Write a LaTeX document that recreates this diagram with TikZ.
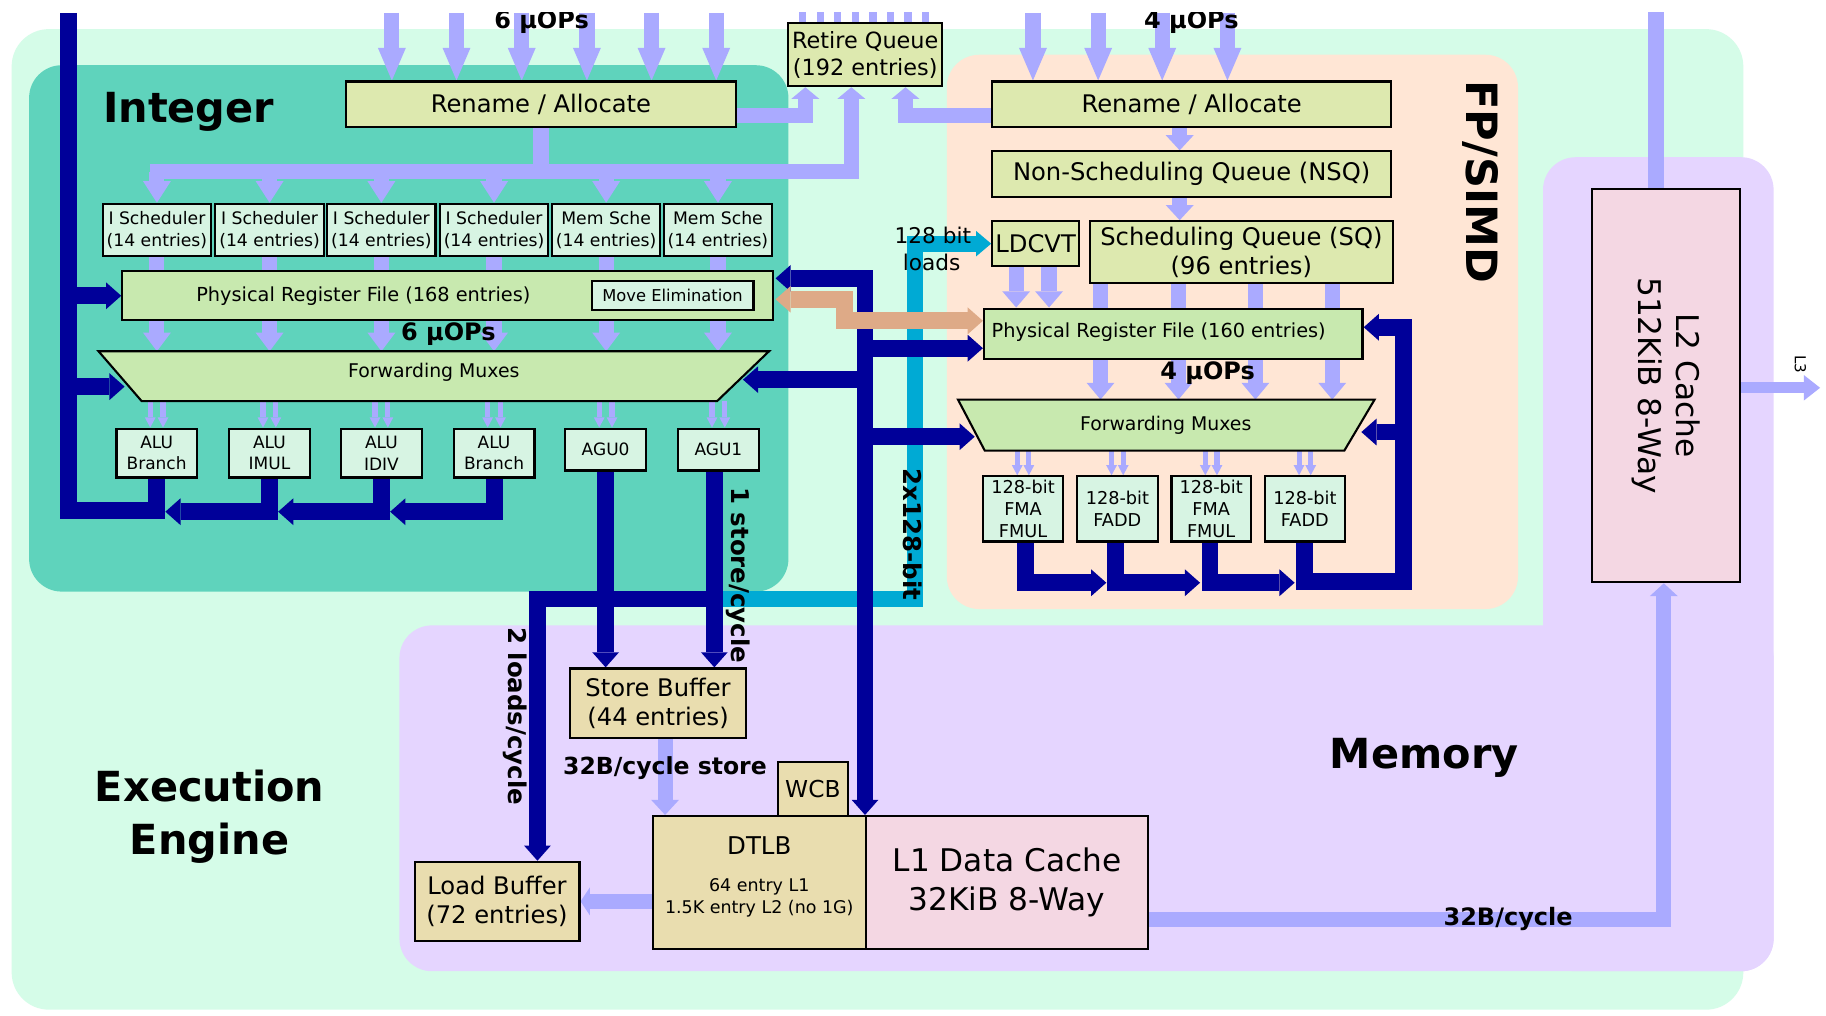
\documentclass[tikz,border=0pt]{standalone}
\usepackage{fontspec}
\setmainfont{DejaVu Sans}
\usetikzlibrary{arrows.meta,calc}
\pgfdeclarelayer{bg}
\pgfdeclarelayer{arr}
\pgfsetlayers{bg,arr,main}
\definecolor{eebg}{RGB}{213,252,232}
\definecolor{intbg}{RGB}{95,211,188}
\definecolor{fpbg}{RGB}{255,230,213}
\definecolor{membg}{RGB}{229,213,255}
\definecolor{ygreen}{RGB}{221,233,175}
\definecolor{lgreen}{RGB}{200,233,175}
\definecolor{cmint}{RGB}{215,244,227}
\definecolor{ckhaki}{RGB}{233,221,175}
\definecolor{cpink}{RGB}{244,215,227}
\definecolor{lpur}{RGB}{170,170,255}
\definecolor{dblue}{RGB}{0,0,153}
\definecolor{ccyan}{RGB}{0,170,212}
\definecolor{ctan}{RGB}{222,170,135}
\tikzset{
  lpbar/.style={draw=lpur,line width=6.5pt},
  lpa/.style={lpbar,-{Triangle[width=12pt,length=#1,line width=0pt]}},
  lpa/.default=8pt,
  thina/.style={draw=lpur,line width=2.2pt,-{Triangle[width=4.6pt,length=4.3pt,line width=0pt]}},
  dbar/.style={draw=dblue,line width=7.25pt,line join=miter},
  dba/.style={dbar,-{Triangle[width=11.5pt,length=6.5pt,line width=0pt]}},
  dbb/.style={dbar,{Triangle[width=11.5pt,length=6.5pt,line width=0pt]}-{Triangle[width=11.5pt,length=6.5pt,line width=0pt]}},
  tana/.style={draw=ctan,line width=7.25pt,line join=miter,{Triangle[width=11.5pt,length=6.5pt,line width=0pt]}-{Triangle[width=11.5pt,length=6.5pt,line width=0pt]}},
  cya/.style={draw=ccyan,line width=7pt,line join=miter,-{Triangle[width=11pt,length=6.5pt,line width=0pt]}},
  bx/.style={draw=black,line width=0.9pt,inner sep=0pt,align=center},
  area/.style={inner sep=0pt},
  bigtxt/.style={font=\fontsize{10.4}{12.4}\selectfont},
  rqtxt/.style={font=\fontsize{9.6}{11.7}\selectfont},
  smtxt/.style={font=\fontsize{7.4}{9.2}\selectfont},
  untxt/.style={font=\fontsize{7.3}{9.3}\selectfont},
  futxt/.style={font=\fontsize{7.6}{9.4}\selectfont},
  muxtxt/.style={font=\fontsize{8.1}{10}\selectfont},
  prftxt/.style={font=\fontsize{8.3}{10}\selectfont},
  cachetxt/.style={font=\fontsize{13.4}{16.5}\selectfont},
  sect/.style={font=\fontsize{17.8}{21}\selectfont\bfseries},
  lbl/.style={font=\fontsize{10.5}{12.6}\selectfont\bfseries},
  lblc/.style={font=\fontsize{10.3}{12.4}\selectfont\bfseries}
}
% box node from its two corners: name, x1, y1, x2, y2, options, text
\newcommand\bxn[7]{\node[#6,minimum width={((#4)-(#2))*0.5pt},minimum height={((#5)-(#3))*0.5pt}] (#1) at ({((#2)+(#4))/2},{((#3)+(#5))/2}) {#7};}
\begin{document}
\begin{tikzpicture}[x=0.5pt,y=-0.5pt]
\useasboundingbox (0,0) rectangle (1568,872);
\begin{pgfonlayer}{bg}
\fill[white] (0,0) rectangle (1568,872);
\fill[eebg,rounded corners=16pt] (10,25) rectangle (1497,867);
\fill[intbg,rounded corners=14pt] (25,56) rectangle (677,508);
\fill[fpbg,rounded corners=14pt] (813,47) rectangle (1303.5,523);
\fill[membg,rounded corners=14pt] (343,537) rectangle (1523,834);
\fill[membg,rounded corners=14pt] (1325,135) rectangle (1523,834);
\end{pgfonlayer}

% ---------- Integer nodes
\bxn{irename}{297}{70}{632}{109}{bx,fill=ygreen,bigtxt}{Rename / Allocate}
\bxn{retire}{677}{20}{809}{74}{bx,fill=ygreen,rqtxt}{Retire Queue\\(192 entries)}
\bxn{is1}{88.5}{175}{181}{220}{bx,fill=cmint,smtxt}{I Scheduler\\(14 entries)}
\bxn{is2}{185}{175}{278}{220}{bx,fill=cmint,smtxt}{I Scheduler\\(14 entries)}
\bxn{is3}{281}{175}{374}{220}{bx,fill=cmint,smtxt}{I Scheduler\\(14 entries)}
\bxn{is4}{378}{175}{470.5}{220}{bx,fill=cmint,smtxt}{I Scheduler\\(14 entries)}
\bxn{is5}{474}{175}{567}{220}{bx,fill=cmint,smtxt}{Mem Sche\\(14 entries)}
\bxn{is6}{570}{175}{663}{220}{bx,fill=cmint,smtxt}{Mem Sche\\(14 entries)}
\bxn{iprf}{105}{233}{664}{275}{bx,fill=lgreen}{}
\node[prftxt,anchor=base] (iprft) at (312,259) {Physical Register File (168 entries)};
\bxn{movel}{508}{241}{647}{266}{bx,fill=cmint,font=\fontsize{7}{8.4}\selectfont}{Move Elimination}
\bxn{imux}{85}{302}{660}{344}{area}{}
\draw[line width=0.9pt,fill=lgreen] (imux.north west) -- (imux.north east) -- ($(imux.south east)+(-44.6,0)$) -- ($(imux.south west)+(37,0)$) -- cycle;
\node[muxtxt,anchor=base] (imuxt) at (372.5,324.3) {Forwarding Muxes};
\bxn{u1}{100}{368}{169}{410}{bx,fill=cmint,untxt}{ALU\\Branch}
\bxn{u2}{196.7}{368}{266}{410}{bx,fill=cmint,untxt}{ALU\\IMUL}
\bxn{u3}{292.7}{368}{362.4}{410}{bx,fill=cmint,untxt}{ALU\\IDIV}
\bxn{u4}{389.5}{368}{459}{410}{bx,fill=cmint,untxt}{ALU\\Branch}
\bxn{u5}{485.5}{368}{554.6}{404}{bx,fill=cmint,untxt}{AGU0}
\bxn{u6}{582.3}{368}{651.5}{404}{bx,fill=cmint,untxt}{AGU1}

% ---------- FP nodes
\bxn{fprename}{852}{70}{1194.6}{109}{bx,fill=ygreen,bigtxt}{Rename / Allocate}
\bxn{nsq}{852}{130}{1194.6}{169}{bx,fill=ygreen,bigtxt}{Non-Scheduling Queue (NSQ)}
\bxn{ldcvt}{852}{190}{926.6}{228.5}{bx,fill=ygreen,bigtxt}{LDCVT}
\bxn{sq}{936}{190}{1196}{242.8}{bx,fill=ygreen,bigtxt}{Scheduling Queue (SQ)\\(96 entries)}
\bxn{fprf}{845}{265}{1170}{308}{bx,fill=lgreen}{}
\node[prftxt,anchor=base] (fprft) at (995,290) {Physical Register File (160 entries)};
\bxn{fmux}{823}{343.5}{1180}{386.5}{area}{}
\draw[line width=0.9pt,fill=lgreen] (fmux.north west) -- (fmux.north east) -- ($(fmux.south east)+(-26,0)$) -- ($(fmux.south west)+(23,0)$) -- cycle;
\node[muxtxt,anchor=base] (fmuxt) at (1001,369.3) {Forwarding Muxes};
\bxn{f1}{844}{409}{913}{465}{bx,fill=cmint,futxt}{128-bit\\FMA\\FMUL}
\bxn{f2}{925}{409}{994}{465}{bx,fill=cmint,futxt}{128-bit\\FADD}
\bxn{f3}{1006}{409}{1074}{465}{bx,fill=cmint,futxt}{128-bit\\FMA\\FMUL}
\bxn{f4}{1086}{409}{1155}{465}{bx,fill=cmint,futxt}{128-bit\\FADD}

% ---------- Memory nodes
\bxn{sb}{489.5}{574}{640.7}{634}{bx,fill=ckhaki,bigtxt}{Store Buffer\\(44 entries)}
\bxn{wcb}{668}{654.5}{728}{700.7}{bx,fill=ckhaki,font=\fontsize{10}{12}\selectfont}{WCB}
\bxn{dtlb}{561}{700.7}{743.7}{815}{bx,fill=ckhaki}{}
\node[font=\fontsize{10.5}{12}\selectfont,anchor=base] (dtlbt) at (652,734) {DTLB};
\node[font=\fontsize{7.5}{9}\selectfont,anchor=base] (dtlb1) at (652,765.7) {64 entry L1};
\node[font=\fontsize{7.5}{9}\selectfont,anchor=base] (dtlb2) at (652,784) {1.5K entry L2 (no 1G)};
\bxn{l1}{743.7}{700.7}{985.8}{815}{bx,fill=cpink,cachetxt}{L1 Data Cache\\32KiB 8-Way}
\bxn{lb}{356}{740}{497.6}{808}{bx,fill=ckhaki,bigtxt}{Load Buffer\\(72 entries)}
\bxn{l2}{1367}{162}{1494}{500}{bx,fill=cpink}{}
\node[cachetxt,rotate=-90,align=center] (l2t) at (l2.center) {L2 Cache\\512KiB 8-Way};

% ---------- connectors
\begin{pgfonlayer}{arr}
\coordinate (a1) at ($(u6.south)+(-3.5,0)$);
\coordinate (busj) at ($(a1)+(0,109.5)$);
\draw[cya] (busj) -- ++(172.5,0) |- (ldcvt.west);
\coordinate (ltrunk) at (59,11);
\draw[dbar] (ltrunk) -- (59,438.5) -| (u1.south);
\draw[dba] (iprf.west -| ltrunk) -- (iprf.west);
\coordinate (imuxL) at (107,332);
\draw[dba] (imuxL -| ltrunk) -- (imuxL);
\draw[dba] (u2.south) |- ($(u1.south)+(7.5,28.5)$);
\draw[dba] (u3.south) |- ($(u2.south)+(7.5,28.5)$);
\draw[dba] (u4.south) |- ($(u3.south)+(7.5,28.5)$);
\draw[dba] (u5.south) -- (u5.south |- sb.north);
\draw[dba] (a1) -- (a1 |- sb.north);
\coordinate (lbin) at ($(lb.north)+(34.7,0)$);
\draw[dba] (busj) -| (lbin);
\coordinate (iprfR) at (666,239);
\draw[dbb] (iprfR) -| (l1.north west);
\coordinate (fprfL) at (844,299);
\draw[dba] (fprfL -| l1.north west) -- (fprfL);
\coordinate (imuxR) at (638,326);
\draw[dba] (imuxR -| l1.north west) -- (imuxR);
\coordinate (fmuxL) at (837,375);
\draw[dba] (fmuxL -| l1.north west) -- (fmuxL);
\draw[dba] ($(f1.south)+(2,0)$) |- ($(f2.south)+(-9.5,34.5)$);
\draw[dba] ($(f2.south)+(-1.5,0)$) |- ($(f3.south)+(-9.5,34.5)$);
\draw[dba] ($(f3.south)+(-1,0)$) |- ($(f4.south)+(-8.8,34.5)$);
\coordinate (fprfR) at (1171,281);
\coordinate (fmuxR) at (1169,371);
\draw[dba] (f4.south) |- ($(fprfR)+(34,218.5)$) -- ($(fprfR)+(34,0)$) -- (fprfR);
\draw[dba] ($(fprfR)+(34,90)$) -- (fmuxR);
\coordinate (tanL) at (666,257);
\coordinate (tanR) at (844,275.5);
\draw[tana] (tanL) -- ++(59.5,0) |- (tanR);
\foreach \x in {336.5,392,448,504,559.5,615} \draw[lpa=14pt] (\x,11) -- (\x,0 |- irename.north);
\foreach \x in {887,943,998,1054} \draw[lpa=14pt] (\x,11) -- (\x,0 |- fprename.north);
\foreach \i in {0,...,7} \draw[lpur,line width=3.15pt] ($(retire.north west)+({13.2+15.06*\i},0)$) -- ++(0,-9);
\draw[lpa=5pt] ($(irename.east)+(0,9.5)$) -| ($(retire.south)+(-51.5,0)$);
\draw[lpa=5pt] ($(fprename.west)+(0,9.5)$) -| ($(retire.south)+(34.5,0)$);
\coordinate (bus) at (128.5,147.5);
\draw[lpa=5pt] (bus) -| ($(retire.south)+(-12,0)$);
\draw[lpbar] (irename.south) -- (irename.south |- bus);
\foreach \n in {is1,is2,is3,is4,is5,is6} {
  \draw[lpa=9.3pt] (\n.north |- bus) -- (\n.north);
  \draw[lpbar] (\n.south) -- (\n.south |- iprf.north);
  \draw[lpa=8pt] (\n.south |- iprf.south) -- (\n.south |- imux.north);
}
\foreach \n in {u1,u2,u3,u4,u5,u6} {
  \draw[thina] ($(\n.north |- imux.south)+(-5.5,0)$) -- ($(\n.north)+(-5.5,0)$);
  \draw[thina] ($(\n.north |- imux.south)+(5.5,0)$) -- ($(\n.north)+(5.5,0)$);
}
\draw[lpa=6.5pt] (1013,0 |- fprename.south) -- (1013,0 |- nsq.north);
\draw[lpa=6.5pt] (1013,0 |- nsq.south) -- (1013,0 |- sq.north);
\foreach \x in {872.6,900.8} \draw[lpa=7pt] (\x,0 |- ldcvt.south) -- (\x,0 |- fprf.north);
\foreach \x in {945,1012,1078,1144} {
  \draw[lpbar] (\x,0 |- sq.south) -- (\x,0 |- fprf.north);
  \draw[lpa=7.2pt] (\x,0 |- fprf.south) -- (\x,0 |- fmux.north);
}
\foreach \n in {f1,f2,f3,f4} {
  \draw[thina] ($(\n.north |- fmux.south)+(-5,0)$) -- ($(\n.north)+(-5,0)$);
  \draw[thina] ($(\n.north |- fmux.south)+(5,0)$) -- ($(\n.north)+(5,0)$);
}
\coordinate (sbo) at ($(sb.south)+(6,0)$);
\draw[lpa=6.5pt] (sbo) -- (sbo |- dtlb.north);
\draw[lpa=4pt] (dtlb.west |- lb.east) -- (lb.east);
\draw[lpa=5.5pt] ($(l1.east)+(0,31.6)$) -| ($(l2.south)+(-1.8,0)$);
\draw[lpbar] ($(l2.north)+(-8.5,0)$) -- ++(0,-151);
\draw[draw=lpur,line width=4.75pt,-{Triangle[width=11pt,length=7pt,line width=0pt]}] ($(l2.east)+(0,2)$) -- ++(68,0) coordinate (l3end);
\end{pgfonlayer}

% ---------- labels
\node[sect,anchor=base] (lint) at (162,105.5) {Integer};
\node[sect,anchor=base] (lee1) at (180,688) {Execution};
\node[sect,anchor=base] (lee2) at (180,734) {Engine};
\node[sect,anchor=base] (lmem) at (1223,660) {Memory};
\node[font=\fontsize{18.5}{22}\selectfont\bfseries,rotate=-90] (lfp) at (1271.5,156) {FP/SIMD};
\begin{scope}
\clip (0,11) rectangle (1568,100);
\node[lblc,anchor=base] (uop1) at (465,24.5) {6 µOPs};
\node[lblc,anchor=base] (uop2) at (1023,24.5) {4 µOPs};
\end{scope}
\node[lblc,anchor=base] (uop3) at (385,292) {6 µOPs};
\node[lblc,anchor=base] (uop4) at (1037,326) {4 µOPs};
\node[font=\fontsize{10.1}{12}\selectfont\bfseries,anchor=base] (l32s) at (571,665) {32B/cycle store};
\node[lblc,anchor=base] (l32) at (1295,795) {32B/cycle};
\node[font=\fontsize{9.3}{11}\selectfont,anchor=base] (l128a) at (801,209) {128 bit};
\node[font=\fontsize{9.3}{11}\selectfont,anchor=base] (l128b) at (800,232) {loads};
\node[lbl,rotate=-90] (l1st) at (634,494) {1 store/cycle};
\node[lbl,rotate=-90] (l2x) at (783.5,459) {2x128-bit};
\node[lbl,rotate=-90] (l2ld) at (442,615) {2 loads/cycle};
\node[font=\fontsize{6.5}{8}\selectfont,rotate=-90] (l3) at (1546,313) {L3};
\end{tikzpicture}
\end{document}
